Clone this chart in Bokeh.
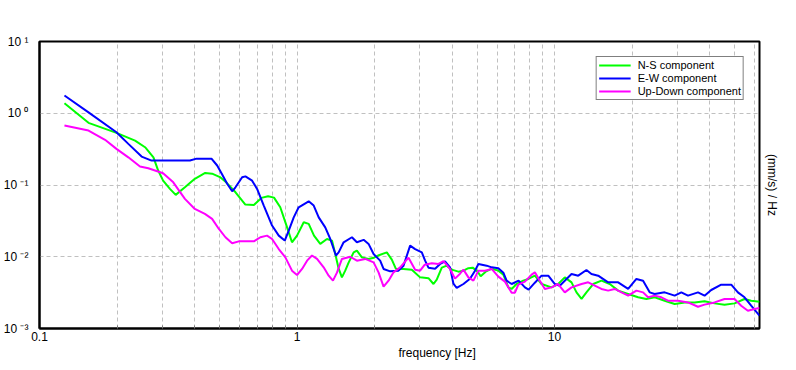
from bokeh.plotting import figure
from bokeh.models import (FixedTicker, CustomJSTickFormatter, LogAxis, Legend,
                          LegendItem, Title)
from bokeh.embed import file_html
from bokeh.resources import INLINE

# ---------------- data ----------------
ns_freq = [0.125, 0.155, 0.199, 0.235, 0.257, 0.277, 0.289, 0.302, 0.321, 0.338,
           0.367, 0.401, 0.440, 0.468, 0.502, 0.532, 0.577, 0.630, 0.680, 0.727,
           0.772, 0.814, 0.861, 0.915, 0.956, 1.000, 1.062, 1.110, 1.164, 1.231,
           1.307, 1.367, 1.408, 1.451, 1.494, 1.539, 1.586, 1.659, 1.708, 1.786,
           1.896, 1.988, 2.078, 2.232, 2.334, 2.419, 2.592, 2.791, 3.006, 3.239,
           3.388, 3.488, 3.648, 3.814, 3.988, 4.234, 4.428, 4.629, 4.810, 5.029,
           5.166, 5.402, 5.700, 6.051, 6.327, 6.616, 6.813, 7.124, 7.562, 7.908,
           8.388, 8.904, 9.736, 10.33, 10.96, 11.64, 12.17, 12.73, 13.30, 14.13,
           15.21, 16.39, 17.66, 19.31, 21.11, 22.73, 24.48, 26.76, 29.27, 32.00,
           34.99, 38.24, 41.82, 45.72, 50.00, 54.66, 58.02, 62.49]
ns_amp = [1.38, 0.735, 0.533, 0.416, 0.336, 0.243, 0.159, 0.115, 0.0882, 0.0728,
          0.0929, 0.122, 0.147, 0.144, 0.129, 0.108, 0.0791, 0.0533, 0.0528, 0.0661,
          0.0696, 0.0667, 0.0489, 0.0257, 0.0159, 0.0197, 0.0302, 0.0287, 0.0197, 0.0151,
          0.0177, 0.0168, 0.0109, 0.00682, 0.00516, 0.0064, 0.00827, 0.0115, 0.0122, 0.0098,
          0.00932, 0.00971, 0.0105, 0.0115, 0.00911, 0.00682, 0.00676, 0.00661, 0.00516, 0.00503,
          0.00417, 0.00479, 0.00705, 0.00751, 0.00661, 0.0062, 0.0064, 0.00693, 0.00705, 0.0062,
          0.00536, 0.0062, 0.00682, 0.0064, 0.00563, 0.00374, 0.00356, 0.00417, 0.00464, 0.0049,
          0.00545, 0.00417, 0.00374, 0.00417, 0.00516, 0.0044, 0.00319, 0.00258, 0.00319, 0.00417,
          0.00464, 0.00417, 0.00337, 0.00303, 0.00272, 0.00258, 0.00272, 0.00244, 0.0022, 0.00231,
          0.00231, 0.00239, 0.00224, 0.00215, 0.00224, 0.00258, 0.00244, 0.00236]

ew_freq = [0.125, 0.155, 0.199, 0.2213, 0.2492, 0.2724, 0.3257, 0.3838, 0.4072, 0.4653,
           0.4897, 0.5121, 0.5355, 0.560, 0.5767, 0.6122, 0.6304, 0.6693, 0.6998, 0.7429,
           0.800, 0.8494, 0.8961, 0.9286, 0.971, 1.015, 1.110, 1.161, 1.214, 1.287,
           1.346, 1.416, 1.451, 1.517, 1.634, 1.708, 1.814, 1.896, 1.983, 2.103,
           2.168, 2.300, 2.479, 2.592, 2.749, 2.875, 3.052, 3.143, 3.239, 3.437,
           3.594, 3.756, 3.928, 4.049, 4.170, 4.428, 4.696, 4.911, 5.063, 5.450,
           5.700, 6.051, 6.327, 6.516, 6.813, 7.252, 7.673, 7.930, 8.388, 8.904,
           9.454, 10.03, 10.48, 11.13, 11.64, 12.36, 13.30, 13.91, 14.77, 16.15,
           17.66, 19.31, 20.79, 22.07, 23.41, 24.48, 26.76, 29.27, 31.07, 32.98,
           36.06, 38.24, 40.59, 44.39, 48.55, 51.52, 54.66, 58.02, 62.49]
ew_amp = [1.77, 1.03, 0.543, 0.374, 0.249, 0.219, 0.219, 0.219, 0.233, 0.233,
          0.187, 0.140, 0.104, 0.0817, 0.0929, 0.128, 0.132, 0.115, 0.0882, 0.0516,
          0.0272, 0.0197, 0.0168, 0.0231, 0.0354, 0.0489, 0.0593, 0.0516, 0.0354, 0.0257,
          0.0177, 0.0104, 0.0115, 0.0159, 0.0187, 0.0159, 0.0172, 0.0151, 0.0109, 0.00882,
          0.00676, 0.00626, 0.0064, 0.00751, 0.0143, 0.0128, 0.0115, 0.00882, 0.00705, 0.00682,
          0.00794, 0.00863, 0.00712, 0.00421, 0.00367, 0.00417, 0.00495, 0.0064, 0.00794, 0.00751,
          0.00712, 0.00693, 0.0060, 0.00464, 0.00417, 0.00464, 0.00374, 0.00348, 0.00435, 0.00545,
          0.00545, 0.00417, 0.00395, 0.0049, 0.00575, 0.00545, 0.00654, 0.00575, 0.00545, 0.0044,
          0.0044, 0.00356, 0.0049, 0.00464, 0.00319, 0.00303, 0.00319, 0.00287, 0.00319, 0.00287,
          0.00319, 0.00287, 0.00344, 0.00408, 0.00408, 0.00319, 0.00272, 0.00208, 0.00151]

ud_freq = [0.125, 0.155, 0.1797, 0.199, 0.2213, 0.2456, 0.2645, 0.302, 0.3307, 0.367,
           0.401, 0.4388, 0.468, 0.4973, 0.5273, 0.560, 0.5943, 0.680, 0.7207, 0.765,
           0.800, 0.8494, 0.901, 0.956, 1.000, 1.046, 1.094, 1.143, 1.196, 1.269,
           1.327, 1.379, 1.429, 1.494, 1.609, 1.708, 1.840, 1.983, 2.073, 2.168,
           2.267, 2.370, 2.515, 2.710, 2.875, 3.006, 3.134, 3.337, 3.541, 3.704,
           3.928, 4.107, 4.295, 4.428, 4.629, 4.841, 5.063, 5.368, 5.700, 6.051,
           6.418, 6.813, 7.018, 7.234, 7.673, 8.146, 8.388, 8.770, 9.170, 9.736,
           10.33, 10.96, 11.64, 12.73, 13.51, 14.33, 15.21, 16.15, 17.13, 18.19,
           19.31, 20.79, 22.07, 23.08, 24.48, 25.98, 27.58, 30.17, 32.98, 36.06,
           38.24, 41.82, 45.72, 50.00, 53.06, 56.33, 59.76, 62.49]
ud_amp = [0.674, 0.574, 0.426, 0.319, 0.243, 0.181, 0.171, 0.146, 0.109, 0.064,
          0.0464, 0.0395, 0.0337, 0.0244, 0.0187, 0.0154, 0.0164, 0.0164, 0.0187, 0.0197,
          0.0177, 0.0128, 0.0098, 0.0064, 0.00557, 0.00676, 0.00882, 0.0104, 0.00932, 0.00712,
          0.00545, 0.00464, 0.0060, 0.00932, 0.0100, 0.00882, 0.00932, 0.00835, 0.00606, 0.00383,
          0.00464, 0.00606, 0.00712, 0.00971, 0.00661, 0.0064, 0.00776, 0.00809, 0.00794, 0.00868,
          0.00676, 0.00495, 0.00581, 0.00661, 0.00516, 0.00464, 0.0064, 0.0064, 0.00676, 0.00528,
          0.0045, 0.00316, 0.00316, 0.00408, 0.0045, 0.00563, 0.00606, 0.00464, 0.00356, 0.00374,
          0.00417, 0.00319, 0.00374, 0.00417, 0.0044, 0.00395, 0.00356, 0.00337, 0.00356, 0.00319,
          0.00287, 0.00337, 0.00319, 0.00272, 0.00287, 0.00272, 0.00244, 0.00244, 0.00231, 0.00201,
          0.00215, 0.00231, 0.00258, 0.00258, 0.00208, 0.00177, 0.00187, 0.00193]

series_names = ["N-S component", "E-W component", "Up-Down component"]
series_colors = ["#00FF00", "#0000FF", "#FF00FF"]

x_major = [0.1, 1, 10]
x_minor = [0.2, 0.3, 0.4, 0.5, 0.6, 0.7, 0.8, 0.9,
           2, 3, 4, 5, 6, 7, 8, 9, 20, 30, 40, 50, 60]
y_major = [0.001, 0.01, 0.1, 1, 10]
x_title = "frequency [Hz]"
y_title = "(mm/s) / Hz"

FONT = "Liberation Sans"
GRID = "#C0C0C0"

p = figure(width=788, height=362, x_axis_type="log", y_axis_type="log",
           x_range=(0.1, 62.5), y_range=(0.001, 10),
           output_backend="svg", toolbar_location=None,
           min_border_left=37, min_border_right=29,
           min_border_top=41, min_border_bottom=34)
p.background_fill_color = "white"
p.border_fill_color = "white"
p.outline_line_color = "black"
p.outline_line_width = 2

# x axis
xa = p.xaxis[0]
xa.ticker = FixedTicker(ticks=x_major, minor_ticks=x_minor)
xa.formatter = CustomJSTickFormatter(code="return String(parseFloat(tick.toPrecision(3)));")
xa.major_tick_in = 4
xa.major_tick_out = 0
xa.minor_tick_in = 3
xa.minor_tick_out = 0
xa.major_tick_line_color = "#555555"
xa.minor_tick_line_color = "#777777"
xa.axis_line_color = "black"
xa.axis_line_width = 2
xa.major_label_text_font = FONT
xa.major_label_text_font_size = "12px"
xa.major_label_text_color = "black"
xa.major_label_standoff = 3

# y axis (left)
ya = p.yaxis[0]
ya.ticker = FixedTicker(ticks=y_major, minor_ticks=[])
ya.formatter = CustomJSTickFormatter(code="""
const sup = {"-": "\\u207B", "0": "\\u2070", "1": "\\u00B9", "2": "\\u00B2", "3": "\\u00B3",
             "4": "\\u2074", "5": "\\u2075", "6": "\\u2076", "7": "\\u2077", "8": "\\u2078", "9": "\\u2079"};
const e = Math.round(Math.log10(tick));
let s = "";
for (const c of String(e)) { s += sup[c]; }
return "10 " + s;
""")
ya.major_tick_line_color = None
ya.minor_tick_line_color = None
ya.axis_line_color = "black"
ya.axis_line_width = 2
ya.major_label_text_font = FONT
ya.major_label_text_font_size = "12px"
ya.major_label_text_color = "black"
ya.major_label_standoff = 5

# right axis carrying only the unit label
ra = LogAxis(ticker=FixedTicker(ticks=[]), axis_label=y_title)
ra.axis_line_color = None
ra.major_tick_line_color = None
ra.minor_tick_line_color = None
ra.axis_label_text_font = FONT
ra.axis_label_text_font_size = "12px"
ra.axis_label_text_font_style = "normal"
ra.axis_label_text_color = "black"
ra.axis_label_standoff = 5
p.add_layout(ra, "right")

# grids
p.xgrid.ticker = xa.ticker
p.xgrid.grid_line_color = GRID
p.xgrid.grid_line_dash = "4 3"
p.xgrid.minor_grid_line_color = GRID
p.xgrid.minor_grid_line_dash = "4 3"
p.ygrid.ticker = ya.ticker
p.ygrid.grid_line_color = GRID
p.ygrid.grid_line_dash = "4 3"

# curves
renderers = []
for fx, fy, col in [(ns_freq, ns_amp, series_colors[0]),
                    (ew_freq, ew_amp, series_colors[1]),
                    (ud_freq, ud_amp, series_colors[2])]:
    r = p.line(fx, fy, line_color=col, line_width=2)
    renderers.append(r)

legend = Legend(items=[LegendItem(label=n, renderers=[r])
                       for n, r in zip(series_names, renderers)])
legend.location = "top_right"
legend.margin = 15
legend.padding = 2
legend.spacing = 1
legend.label_height = 12
legend.glyph_height = 12
legend.glyph_width = 32
legend.label_standoff = 7
legend.label_text_font = FONT
legend.label_text_font_size = "11px"
legend.label_text_color = "black"
legend.border_line_color = "black"
legend.border_line_width = 1
legend.background_fill_color = "white"
legend.background_fill_alpha = 1
p.add_layout(legend)

# x axis title (sits right of centre, as in the original)
p.add_layout(Title(text=x_title, align="left", offset=359, standoff=0,
                   text_font=FONT, text_font_size="12px",
                   text_font_style="normal", text_color="black"), "below")

open("out.html", "w").write(file_html(p, INLINE))
